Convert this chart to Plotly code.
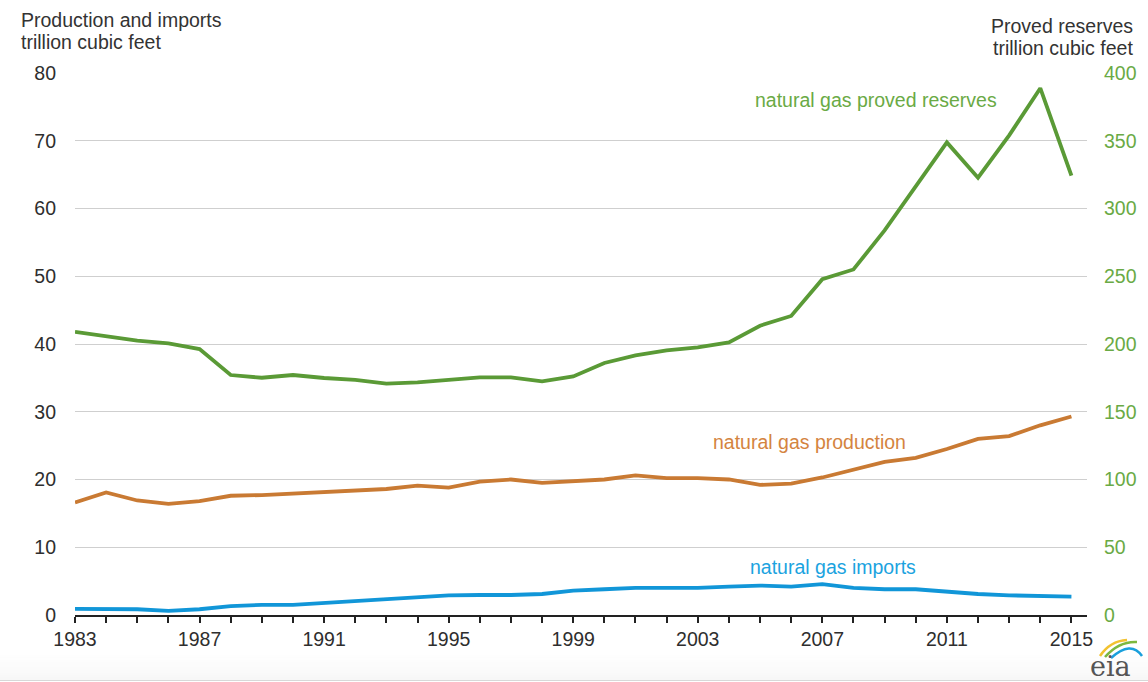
import plotly.graph_objects as go

# U.S. natural gas: production, imports (trillion cubic feet) and proved reserves
years = list(range(1983, 2016))

production = [16.6, 18.1, 16.9, 16.4, 16.8, 17.6, 17.7, 17.9, 18.1, 18.3,
              18.6, 19.1, 18.8, 19.7, 20.0, 19.5, 19.8, 20.0, 20.6, 20.2,
              20.2, 20.0, 19.2, 19.4, 20.3, 21.4, 22.6, 23.2, 24.5, 26.0,
              26.4, 28.0, 29.3]

imports = [0.9, 0.85, 0.85, 0.6, 0.85, 1.3, 1.5, 1.5, 1.8, 2.1,
           2.35, 2.6, 2.9, 2.95, 2.95, 3.1, 3.6, 3.8, 4.0, 4.0,
           4.0, 4.2, 4.35, 4.2, 4.55, 4.0, 3.8, 3.8, 3.45, 3.1,
           2.9, 2.75, 2.72]

reserves = [208.9, 206.0, 202.5, 200.5, 196.2, 177.1, 175.1, 177.1, 174.9, 173.5,
            170.7, 171.7, 173.5, 175.4, 175.4, 172.4, 176.1, 186.0, 191.6, 195.3,
            197.5, 201.2, 213.5, 220.7, 247.8, 255.0, 283.8, 316.5, 348.8, 322.7,
            354.0, 388.8, 324.3]

x_tick_years = [1983, 1987, 1991, 1995, 1999, 2003, 2007, 2011, 2015]

GREEN = "#5a9a36"
ORANGE = "#c97a33"
BLUE = "#1196d8"
FONT = "Liberation Sans, Arial, sans-serif"

# plot area in pixels: x 75..1087, y 73..615
L, R, T, B = 75, 1087, 73, 615


def px_x(p):
    return (p - L) / (R - L)


def px_y(p):
    return (B - p) / (B - T)


fig = go.Figure()

fig.add_trace(go.Scatter(x=years, y=reserves, yaxis="y2", mode="lines",
                         line=dict(color=GREEN, width=3.8), showlegend=False,
                         name="natural gas proved reserves"))
fig.add_trace(go.Scatter(x=years, y=production, mode="lines",
                         line=dict(color=ORANGE, width=3.8), showlegend=False,
                         name="natural gas production"))
fig.add_trace(go.Scatter(x=years, y=imports, mode="lines",
                         line=dict(color=BLUE, width=3.8), showlegend=False,
                         name="natural gas imports"))

# faint grey fade along the bottom edge, stronger toward the bottom
band_steps = 12
band_top, band_bottom = 650, 680
for i in range(band_steps):
    y0 = band_top + (band_bottom - band_top) * i / band_steps
    y1 = band_top + (band_bottom - band_top) * (i + 1) / band_steps
    fig.add_shape(type="rect", xref="paper", yref="paper",
                  x0=px_x(0), x1=px_x(1148), y0=px_y(y1), y1=px_y(y0),
                  fillcolor="rgba(225,225,225,%.3f)" % (0.25 * ((i + 1) / band_steps) ** 1.5),
                  line=dict(width=0), layer="below")
fig.add_shape(type="line", xref="paper", yref="paper",
              x0=px_x(0), x1=px_x(1148), y0=px_y(680.5), y1=px_y(680.5),
              line=dict(color="#d8d8d8", width=1))

# eia logo: arcs over the letters (pixel paths converted to paper coordinates)
logo_arcs = [("#f2c230", [(1100, 656), (1110, 641), (1127, 640)]),
             ("#7cb83f", [(1105, 657), (1119, 641), (1137, 642)]),
             ("#1aa0dc", [(1111, 658), (1131, 640), (1142, 656)])]
for col, pts in logo_arcs:
    (x0, y0), (cx, cy), (x1, y1) = pts
    path = "M %.5f,%.5f Q %.5f,%.5f %.5f,%.5f" % (px_x(x0), px_y(y0), px_x(cx), px_y(cy),
                                                 px_x(x1), px_y(y1))
    fig.add_shape(type="path", xref="paper", yref="paper", path=path,
                  line=dict(color=col, width=2.5))

title_font = dict(family=FONT, size=19.5, color="#333333")


def paper_text(text, x, y, anchor):
    return dict(x=px_x(x), y=px_y(y), xref="paper", yref="paper", text=text,
                showarrow=False, font=title_font, xanchor=anchor, yanchor="middle")


annotations = [
    dict(x=px_x(1110), y=px_y(666), xref="paper", yref="paper", text="eia",
         showarrow=False, font=dict(family="DejaVu Serif, serif", size=27, color="#555555"),
         xanchor="center", yanchor="middle"),
    dict(x=2008.73, y=380, xref="x", yref="y2", text="natural gas proved reserves",
         showarrow=False, font=dict(family=FONT, size=19.5, color="#6aaa45"),
         xanchor="center", yanchor="middle"),
    dict(x=2006.58, y=25.5, xref="x", yref="y", text="natural gas production",
         showarrow=False, font=dict(family=FONT, size=19.5, color="#d4843f"),
         xanchor="center", yanchor="middle"),
    dict(x=2007.35, y=7.1, xref="x", yref="y", text="natural gas imports",
         showarrow=False, font=dict(family=FONT, size=19.5, color="#1ba3e0"),
         xanchor="center", yanchor="middle"),
    paper_text("Production and imports", 19, 20, "left"),
    paper_text("trillion cubic feet", 19, 42, "left"),
    paper_text("Proved reserves", 1135, 26, "right"),
    paper_text("trillion cubic feet", 1135, 48, "right"),
]

fig.update_layout(
    width=1148, height=682,
    margin=dict(l=L, r=1148 - R, t=T, b=682 - B),
    paper_bgcolor="white", plot_bgcolor="white",
    font=dict(family=FONT, size=19, color="#333333"),
    annotations=annotations,
    xaxis=dict(range=[1983, 2015.5], tickvals=x_tick_years, ticks="outside",
               ticklen=6, tickcolor="#222222", tickwidth=1.5, showline=True,
               linecolor="#222222", linewidth=1.5, showgrid=False, zeroline=False,
               minor=dict(dtick=1, ticks="outside", ticklen=6, tickcolor="#222222",
                          tickwidth=1.5, showgrid=False),
               tickfont=dict(size=19.5, color="#2e2e2e")),
    yaxis=dict(range=[0, 80], dtick=10, showgrid=True, gridcolor="#cfcfcf",
               gridwidth=1.2, zeroline=False, showline=False, ticks="",
               ticklabelstandoff=18, tickfont=dict(size=19.5, color="#2e2e2e")),
    yaxis2=dict(range=[0, 400], dtick=50, overlaying="y", side="right",
                showgrid=False, zeroline=False, showline=False, ticks="",
                ticklabelstandoff=16, tickfont=dict(size=19.5, color="#6aaa45")),
)

fig.write_html("out.html")
